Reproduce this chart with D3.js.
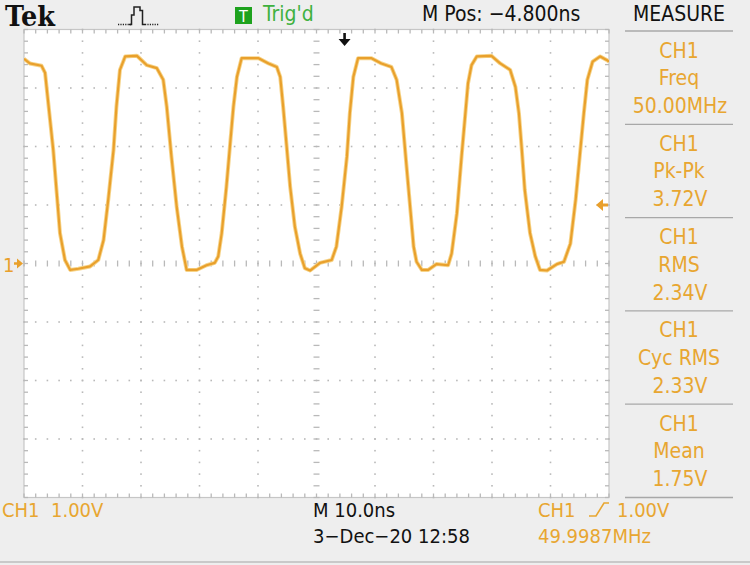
<!DOCTYPE html>
<html><head><meta charset="utf-8">
<script src="https://cdn.jsdelivr.net/npm/d3@7"></script>
<style>body{margin:0;background:#eeeeee;overflow:hidden} svg{display:block}</style>
</head><body><svg id="c" width="750" height="565"></svg>
<script>
// ---- data (time in ns from left edge of screen, CH1 volts) ----
const timeNs = [0,1.0,3.0,3.6,4.15,5.0,5.6,6.15,7.0,7.9,9.3,11.3,12.7,13.6,14.4,15.3,15.8,16.4,17.3,19.3,
  21.0,22.7,23.8,24.4,25.2,26.1,27.0,27.8,29.5,31.2,32.6,33.2,33.8,34.6,35.2,35.8,36.4,37.2,40.1,
  41.8,43.2,43.8,44.3,44.9,45.5,46.3,47.2,48.0,48.9,50.6,52.6,53.4,54.3,55.2,55.7,56.3,57.1,59.4,
  61.1,62.8,63.7,64.6,65.4,66.1,66.6,67.1,68.0,69.1,70.5,72.5,73.1,74.0,74.8,75.4,75.9,76.5,77.4,79.9,
  81.4,83.1,84.0,84.6,85.1,85.6,86.5,87.4,88.2,89.4,91.1,92.3,93.4,94.3,95.1,95.7,96.3,97.2,98.5,99.6,100];
const volts = [3.50,3.42,3.38,3.26,2.74,1.94,1.20,0.52,0.06,-0.11,-0.09,-0.05,0.06,0.40,1.09,1.94,2.68,3.31,3.54,3.55,
  3.39,3.34,3.14,2.68,1.83,0.97,0.29,-0.11,-0.11,-0.03,0.01,0.12,0.52,1.31,2.00,2.68,3.19,3.51,3.51,
  3.42,3.36,3.19,2.68,2.00,1.31,0.63,0.17,-0.08,-0.12,0.01,0.06,0.29,0.97,1.83,2.57,3.19,3.51,3.51,
  3.42,3.36,3.14,2.57,1.65,0.86,0.29,0.03,-0.11,-0.11,-0.01,-0.03,0.17,0.86,1.83,2.51,3.08,3.39,3.54,3.55,
  3.42,3.31,3.02,2.57,1.94,1.26,0.52,0.12,-0.11,-0.12,-0.01,0.03,0.34,1.09,1.94,2.57,3.14,3.45,3.54,3.48,3.45];

const voltDivs = d3.range(-4, 5, 1);      // 1.00 V/div, 8 divisions
const timeDivs = d3.range(0, 101, 10);    // 10.0 ns/div, 10 divisions
const triggerLevel = 1.00;
const mPosNs = -4.800;

const measureChannels = ["CH1","CH1","CH1","CH1","CH1"];
const measureNames = ["Freq","Pk-Pk","RMS","Cyc RMS","Mean"];
const measureValues = ["50.00MHz","3.72V","2.34V","2.33V","1.75V"];

const headerTexts = {tek:"Tek", trig:"Trig'd", mpos:"M Pos: \u22124.800ns", measure:"MEASURE"};
const footerTexts = {ch1Scale:"CH1  1.00V", timebase:"M 10.0ns", date:"3\u2212Dec\u221220 12:58",
  trigCh:"CH1", trigLevel:"1.00V", trigFreq:"49.9987MHz"};

// ---- drawing ----
const svg = d3.select("#c");
const ORANGE = "#e9a02c", TXT = "#e8a631", GRID = "#b9b9b9";
const FONT = "'Liberation Sans Narrow','DejaVu Sans Condensed','Roboto Condensed',sans-serif";

const x = d3.scaleLinear().domain([0, 100]).range([24, 609]);
const y = d3.scaleLinear().domain([-4, 4]).range([497.5, 29.5]);

svg.append("rect").attr("width",750).attr("height",565).attr("fill","#eeeeee");
svg.append("line").attr("x1",0).attr("x2",750).attr("y1",562).attr("y2",562).attr("stroke","#c9c9c9").attr("stroke-width",2);

// plot area
svg.append("rect").attr("x",x(0)).attr("y",y(4)).attr("width",x(100)-x(0)).attr("height",y(-4)-y(4))
  .attr("fill","#ffffff").attr("stroke","#c6c6c6").attr("stroke-width",1.2);

const grid = svg.append("g");
const minorT = d3.range(0, 100.001, 2);
const minorV = d3.range(-4, 4.001, 0.2);
function dot(cx, cy){ grid.append("rect").attr("x",cx-0.8).attr("y",cy-0.8).attr("width",1.6).attr("height",1.6).attr("fill",GRID); }
voltDivs.filter(v => v !== -4 && v !== 4 && v !== 0).forEach(v => minorT.forEach(t => dot(x(t), y(v))));
timeDivs.filter(t => t !== 0 && t !== 100 && t !== 50).forEach(t => minorV.forEach(v => dot(x(t), y(v))));
// center cross ticks
minorT.forEach(t => grid.append("line").attr("x1",x(t)).attr("x2",x(t)).attr("y1",y(0)-3).attr("y2",y(0)+3).attr("stroke",GRID).attr("stroke-width",1.3));
minorV.forEach(v => grid.append("line").attr("x1",x(50)-3).attr("x2",x(50)+3).attr("y1",y(v)).attr("y2",y(v)).attr("stroke",GRID).attr("stroke-width",1.3));
// border ticks
minorT.forEach(t => {
  grid.append("line").attr("x1",x(t)).attr("x2",x(t)).attr("y1",y(4)).attr("y2",y(4)+4).attr("stroke",GRID).attr("stroke-width",1.3);
  grid.append("line").attr("x1",x(t)).attr("x2",x(t)).attr("y1",y(-4)).attr("y2",y(-4)-4).attr("stroke",GRID).attr("stroke-width",1.3);
});
minorV.forEach(v => {
  grid.append("line").attr("x1",x(0)).attr("x2",x(0)+4).attr("y1",y(v)).attr("y2",y(v)).attr("stroke",GRID).attr("stroke-width",1.3);
  grid.append("line").attr("x1",x(100)).attr("x2",x(100)-4).attr("y1",y(v)).attr("y2",y(v)).attr("stroke",GRID).attr("stroke-width",1.3);
});

// waveform
svg.append("clipPath").attr("id","pc").append("rect").attr("x",x(0)).attr("y",y(4)).attr("width",x(100)-x(0)).attr("height",y(-4)-y(4));
const pts = timeNs.map((t,i) => [t, volts[i]]);
const line = d3.line().x(d => x(d[0])).y(d => y(d[1])).curve(d3.curveLinear);
const wg = svg.append("g").attr("clip-path","url(#pc)");
wg.append("path").attr("d", line(pts)).attr("fill","none").attr("stroke","#f6d48a").attr("stroke-width",4).attr("stroke-linejoin","round");
wg.append("path").attr("d", line(pts)).attr("fill","none").attr("stroke",ORANGE).attr("stroke-width",2.2).attr("stroke-linejoin","round");

// ground marker "1->"
svg.append("text").attr("x",3).attr("y",y(0)+8).attr("font-family",FONT).attr("font-size",20).attr("fill",ORANGE).text("1");
svg.append("path").attr("d",`M14,${y(0)-1.2}H17V${y(0)-5}L23,${y(0)}L17,${y(0)+5}V${y(0)+1.2}H14Z`).attr("fill",ORANGE);
// trigger level marker (right)
const ty = y(triggerLevel);
svg.append("path").attr("d",`M596,${ty}L603,${ty-6}V${ty-1.5}H608V${ty+1.5}H603V${ty+6}Z`).attr("fill",ORANGE);
// trigger position arrow (top)
const tx = x(50 - mPosNs);
svg.append("path").attr("d",`M${tx-1.3},33H${tx+1.3}V39H${tx+6}L${tx},46L${tx-6},39H${tx-1.3}Z`).attr("fill","#111");

// header
svg.append("text").attr("x",5).attr("y",26).attr("font-family","'DejaVu Serif','Liberation Serif',serif").attr("font-weight","bold")
  .attr("font-size",28).attr("textLength",50).attr("lengthAdjust","spacingAndGlyphs").attr("fill","#111").text(headerTexts.tek);
// acquisition icon
const icon = svg.append("g").attr("stroke","#222").attr("fill","none");
icon.append("line").attr("x1",118).attr("x2",131).attr("y1",24.5).attr("y2",24.5).attr("stroke-dasharray","1.2,1.2").attr("stroke-width",1.4);
icon.append("line").attr("x1",145).attr("x2",159).attr("y1",24.5).attr("y2",24.5).attr("stroke-dasharray","1.2,1.2").attr("stroke-width",1.4);
icon.append("path").attr("d","M129,24.5H131.5V15H134V7H140V10.5H142.5V24.5H145").attr("stroke-width",1.5);
svg.append("rect").attr("x",235).attr("y",7).attr("width",17).attr("height",17).attr("fill","#1ea21e");
svg.append("text").attr("x",243.5).attr("y",21.5).attr("text-anchor","middle").attr("font-family",FONT).attr("font-size",16).attr("fill","#fff").text("T");
svg.append("text").attr("x",263).attr("y",21).attr("font-family",FONT).attr("font-size",21).attr("fill","#3fb13f").text(headerTexts.trig);
svg.append("text").attr("x",422).attr("y",21).attr("font-family",FONT).attr("font-size",21).attr("fill","#111").text(headerTexts.mpos);
svg.append("text").attr("x",679).attr("y",21).attr("text-anchor","middle").attr("font-family",FONT).attr("font-size",21).attr("fill","#111").text(headerTexts.measure);

// measurement panel
const seps = d3.range(0, 6).map(i => 31 + i * 93.3);
seps.forEach(s => svg.append("line").attr("x1",625).attr("x2",733).attr("y1",s).attr("y2",s).attr("stroke","#a8a8a8").attr("stroke-width",1.3));
measureNames.forEach((n, i) => {
  const top = seps[i];
  const g = svg.append("g").attr("font-family",FONT).attr("font-size",21).attr("fill",TXT).attr("text-anchor","middle");
  g.append("text").attr("x",679).attr("y",top+26.5).text(measureChannels[i]);
  g.append("text").attr("x",679).attr("y",top+54).text(n);
  g.append("text").attr("x",680).attr("y",top+82).text(measureValues[i]);
});

// footer
const ft = svg.append("g").attr("font-family",FONT).attr("font-size",20);
ft.append("text").attr("x",2).attr("y",517).attr("fill",TXT).attr("xml:space","preserve").text(footerTexts.ch1Scale);
ft.append("text").attr("x",313).attr("y",517).attr("fill","#111").text(footerTexts.timebase);
ft.append("text").attr("x",313).attr("y",543).attr("fill","#111").text(footerTexts.date);
ft.append("text").attr("x",538).attr("y",517).attr("fill",TXT).text(footerTexts.trigCh);
ft.append("text").attr("x",617).attr("y",517).attr("fill",TXT).text(footerTexts.trigLevel);
ft.append("text").attr("x",538).attr("y",543).attr("fill",TXT).text(footerTexts.trigFreq);
// rising-edge slope glyph
svg.append("path").attr("d","M589,516H596L604,503H609").attr("fill","none").attr("stroke",TXT).attr("stroke-width",1.6);
</script>
</body></html>
